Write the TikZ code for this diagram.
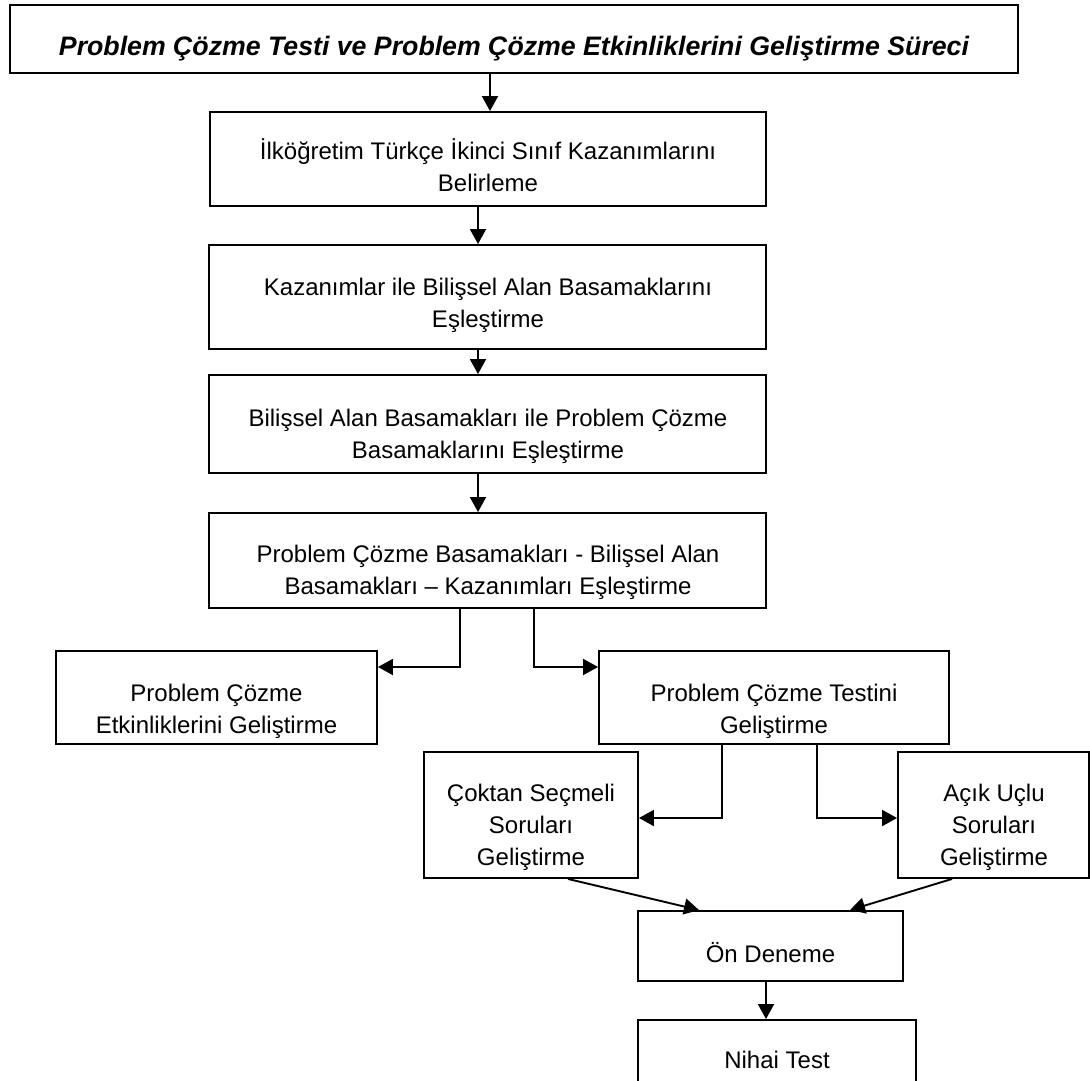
\documentclass[tikz,border=0pt]{standalone}
\usepackage{fontspec}
\setmainfont{Liberation Sans}
\usetikzlibrary{arrows.meta,calc}
\begin{document}
\begin{tikzpicture}[x=1pt,y=-1pt,
  box/.style={draw, line width=1.9pt, rectangle, inner sep=0pt},
  txt/.style={align=center, font=\fontsize{24}{32}\selectfont, inner sep=0pt},
  ttl/.style={align=center, font=\fontsize{26.7}{32}\selectfont\bfseries\itshape, inner sep=0pt},
  arr/.style={line width=1.9pt, -{Triangle[length=15pt,width=16pt]}}]
\clip (0,0) rectangle (1090,1081);
\fill[white] (0,0) rectangle (1090,1081);

% boxes
\node[box, minimum width=1008pt, minimum height=68pt] (title) at (514,39) {};
\node[box, minimum width=556pt, minimum height=94pt] (b2) at (488,159) {};
\node[box, minimum width=557pt, minimum height=104pt] (b3) at (487.5,297) {};
\node[box, minimum width=557pt, minimum height=98pt] (b4) at (487.5,424) {};
\node[box, minimum width=557pt, minimum height=95pt] (b5) at (487.5,560.5) {};
\node[box, minimum width=321pt, minimum height=93pt] (etk) at (216.5,697.5) {};
\node[box, minimum width=350pt, minimum height=93pt] (tst) at (774,697.5) {};
\node[box, minimum width=214pt, minimum height=126pt] (cok) at (531,815) {};
\node[box, minimum width=191pt, minimum height=126pt] (acik) at (993.5,815) {};
\node[box, minimum width=265pt, minimum height=70pt] (on) at (770.5,946) {};
\node[box, minimum width=278pt, minimum height=110pt] (nih) at (777,1075) {};

% texts
\node[ttl] (t0) at (514,49.3) {\strut Problem Çözme Testi ve Problem Çözme Etkinliklerini Geliştirme Süreci};
\node[txt] (t2) at (488,168.6) {\strut İlköğretim Türkçe İkinci Sınıf Kazanımlarını\\\strut Belirleme};
\node[txt] (t3) at (488,304.6) {\strut Kazanımlar ile Bilişsel Alan Basamaklarını\\\strut Eşleştirme};
\node[txt] (t4) at (488,435.6) {\strut Bilişsel Alan Basamakları ile Problem Çözme\\\strut Basamaklarını Eşleştirme};
\node[txt] (t5) at (488,571.6) {\strut Problem Çözme Basamakları - Bilişsel Alan\\\strut Basamakları – Kazanımları Eşleştirme};
\node[txt] (t6) at (216.5,710.6) {\strut Problem Çözme\\\strut Etkinliklerini Geliştirme};
\node[txt] (t7) at (774,710.6) {\strut Problem Çözme Testini\\\strut Geliştirme};
\node[txt] (t8) at (531,826.6) {\strut Çoktan Seçmeli\\\strut Soruları\\\strut Geliştirme};
\node[txt] (t9) at (994,827) {\strut Açık Uçlu\\\strut Soruları\\\strut Geliştirme};
\node[txt] (t10) at (770.5,955.6) {\strut Ön Deneme};
\node[txt] (t11) at (777,1061.6) {\strut Nihai Test};

% helper coordinates
\coordinate (a1) at (490,0);
\coordinate (a2) at (478,0);
\coordinate (a5) at (766,0);
\coordinate (j1) at (460,667);
\coordinate (j2) at (534,667);
\coordinate (j3) at (722,818);
\coordinate (j4) at (817,818);

% connectors
\draw[arr] (title.south -| a1) -- (b2.north -| a1);
\draw[arr] (b2.south -| a2) -- (b3.north -| a2);
\draw[arr] (b3.south -| a2) -- (b4.north -| a2);
\draw[arr] (b4.south -| a2) -- (b5.north -| a2);
\draw[arr] (b5.south -| j1) |- (etk.east |- j1);
\draw[arr] (b5.south -| j2) |- (tst.west |- j2);
\draw[arr] (tst.south -| j3) |- (cok.east |- j3);
\draw[arr] (tst.south -| j4) |- (acik.west |- j4);
\draw[arr] ($(cok.south)+(37,0)$) -- ($(on.north)+(-71.5,0)$);
\draw[arr] ($(acik.south)+(-41.5,0)$) -- ($(on.north)+(79.5,0)$);
\draw[arr] (on.south -| a5) -- (nih.north -| a5);
\end{tikzpicture}
\end{document}
